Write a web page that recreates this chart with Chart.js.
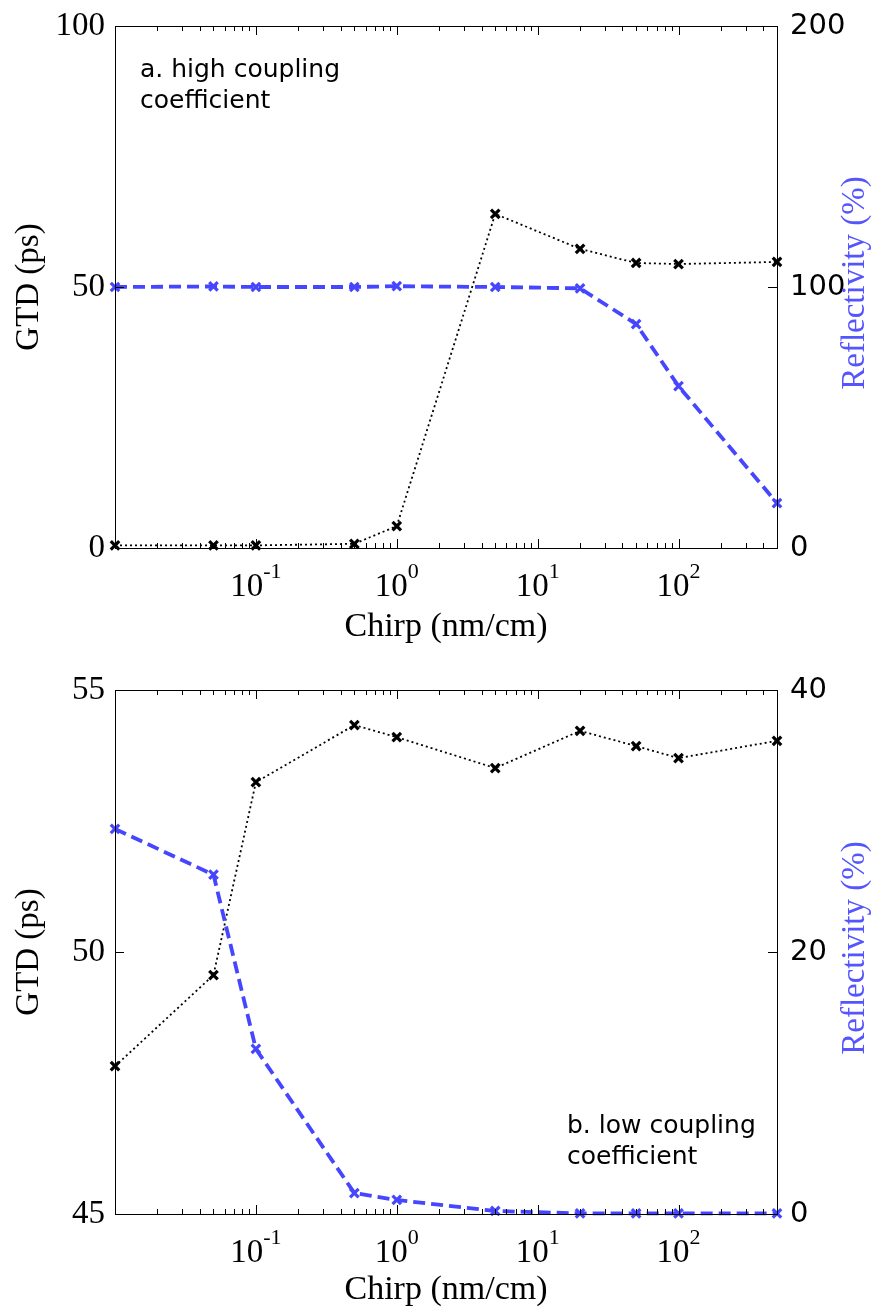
<!DOCTYPE html>
<html>
<head>
<meta charset="utf-8">
<script src="https://cdn.jsdelivr.net/npm/chart.js@4.4.0/dist/chart.umd.min.js"></script>
<style>
  body { margin: 0; background: #fff; }
  canvas { display: block; }
</style>
</head>
<body>
<canvas id="chartA" width="883" height="655"></canvas>
<canvas id="chartB" width="883" height="655"></canvas>
<script>
// chirp values (nm/cm), shared by both panels
const chirp = [0.01, 0.05, 0.1, 0.5, 1, 5, 20, 50, 100, 500];

// panel a: high coupling coefficient
const gtdHigh = [0.5, 0.5, 0.5, 0.8, 4.2, 64, 57.3, 54.6, 54.4, 54.8];
const reflHigh = [100, 100.2, 100, 100, 100.3, 100, 99.5, 85.8, 62, 17.2];

// panel b: low coupling coefficient
const gtdLow = [47.82, 49.56, 53.24, 54.33, 54.1, 53.51, 54.22, 53.93, 53.7, 54.03];
const reflLow = [29.4, 25.9, 12.6, 1.6, 1.07, 0.23, 0.05, 0.05, 0.05, 0.05];

// x axis decade labels (exponents of 10)
const decadeExps = [-1, 0, 1, 2];

const BLUE = 'rgb(70, 70, 255)';
const SERIF = '"Liberation Serif", "Times New Roman", serif';
const SANS = '"DejaVu Sans", Verdana, sans-serif';

function series(ys, color, dash, width, axis) {
  return {
    data: chirp.map((x, i) => ({ x: x, y: ys[i] })),
    yAxisID: axis,
    borderColor: color,
    borderDash: dash,
    borderWidth: width,
    pointStyle: 'crossRot',
    pointRadius: 6,
    pointBorderWidth: 3.2,
    pointBorderColor: color,
    pointBackgroundColor: color,
    tension: 0,
    fill: false,
    clip: false
  };
}

// frame, inward ticks, 10^n labels, right title and the panel note
const matlabAxes = {
  id: 'matlabAxes',
  afterDraw(chart, args, opts) {
    const ctx = chart.ctx;
    const a = chart.chartArea;
    const x = chart.scales.x;
    const y = chart.scales.y;
    const y1 = chart.scales.y1;
    ctx.save();
    ctx.strokeStyle = '#000';
    ctx.lineWidth = 1;
    ctx.strokeRect(Math.round(a.left) + 0.5, Math.round(a.top) + 0.5,
      Math.round(a.right - a.left), Math.round(a.bottom - a.top));

    ctx.beginPath();
    for (let p = -2; p <= 2; p++) {
      for (let m = 1; m <= 9; m++) {
        const v = m * Math.pow(10, p);
        if (v < x.min * 0.999 || v > x.max * 1.001) continue;
        const px = Math.round(x.getPixelForValue(v)) + 0.5;
        const len = m === 1 ? 9 : 5;
        ctx.moveTo(px, a.bottom); ctx.lineTo(px, a.bottom - len);
        ctx.moveTo(px, a.top); ctx.lineTo(px, a.top + len);
      }
    }
    y.ticks.forEach(t => {
      const py = Math.round(y.getPixelForValue(t.value)) + 0.5;
      ctx.moveTo(a.left, py); ctx.lineTo(a.left + 9, py);
    });
    y1.ticks.forEach(t => {
      const py = Math.round(y1.getPixelForValue(t.value)) + 0.5;
      ctx.moveTo(a.right, py); ctx.lineTo(a.right - 9, py);
    });
    ctx.stroke();

    // decade labels with superscript exponent
    ctx.fillStyle = '#000';
    ctx.textBaseline = 'alphabetic';
    ctx.textAlign = 'left';
    decadeExps.forEach(e => {
      const px = x.getPixelForValue(Math.pow(10, e));
      ctx.font = '33px ' + SERIF;
      const wBase = ctx.measureText('10').width;
      ctx.font = '22px ' + SERIF;
      const wExp = ctx.measureText(String(e)).width;
      const left = px - (wBase + wExp) / 2;
      ctx.font = '33px ' + SERIF;
      ctx.fillText('10', left, a.bottom + opts.labelOffset);
      ctx.font = '22px ' + SERIF;
      ctx.fillText(String(e), left + wBase, a.bottom + opts.labelOffset - 18);
    });

    // right axis title, reading bottom to top
    ctx.save();
    ctx.translate(a.right + 78, (a.top + a.bottom) / 2 - 4);
    ctx.rotate(-Math.PI / 2);
    ctx.font = '33px ' + SERIF;
    ctx.fillStyle = 'rgb(85, 85, 255)';
    ctx.textAlign = 'center';
    ctx.textBaseline = 'middle';
    ctx.fillText('Reflectivity (%)', 0, 0);
    ctx.restore();

    // panel note
    ctx.fillStyle = '#000';
    ctx.font = '25px ' + SANS;
    ctx.textAlign = 'left';
    ctx.textBaseline = 'middle';
    opts.note.forEach((line, i) => {
      ctx.fillText(line, opts.noteX, opts.noteY + i * 31);
    });
    ctx.restore();
  }
};

function makeChart(id, gtd, refl, cfg) {
  return new Chart(document.getElementById(id), {
    type: 'line',
    data: {
      datasets: [
        series(refl, BLUE, [12, 6], 3.8, 'y1'),
        series(gtd, '#000', [2, 3], 1.8, 'y')
      ]
    },
    options: {
      responsive: false,
      animation: false,
      events: [],
      layout: { padding: { top: cfg.top, left: 0, right: 0, bottom: 0 } },
      plugins: {
        legend: { display: false },
        tooltip: { enabled: false },
        matlabAxes: { note: cfg.note, noteX: cfg.noteX, noteY: cfg.noteY, labelOffset: 48 }
      },
      scales: {
        x: {
          type: 'logarithmic',
          position: 'bottom',
          min: 0.01,
          max: 500,
          grid: { display: false },
          border: { display: false },
          ticks: { display: false },
          title: {
            display: true,
            text: 'Chirp (nm/cm)',
            color: '#000',
            font: { family: SERIF, size: 34 },
            padding: { top: 0, bottom: cfg.xTitlePad }
          },
          afterFit: s => { s.height = cfg.xHeight; }
        },
        y: {
          position: 'left',
          min: cfg.gtdMin,
          max: cfg.gtdMax,
          grid: { display: false },
          border: { display: false },
          ticks: {
            stepSize: (cfg.gtdMax - cfg.gtdMin) / 2,
            color: '#000',
            padding: 2,
            font: { family: SERIF, size: 33 }
          },
          title: {
            display: true,
            text: 'GTD (ps)',
            color: '#000',
            font: { family: SERIF, size: 33 },
            padding: { top: 10, bottom: 0 }
          },
          afterFit: s => { s.width = 115; }
        },
        y1: {
          position: 'right',
          min: 0,
          max: cfg.reflMax,
          grid: { display: false },
          border: { display: false },
          ticks: {
            stepSize: cfg.reflMax / 2,
            color: '#000',
            padding: 5,
            font: { family: SANS, size: 29 }
          },
          title: { display: false },
          afterFit: s => { s.width = 106; }
        }
      }
    },
    plugins: [matlabAxes]
  });
}

makeChart('chartA', gtdHigh, reflHigh, {
  top: 26, xHeight: 107, xTitlePad: 8,
  gtdMin: 0, gtdMax: 100, reflMax: 200,
  note: ['a. high coupling', 'coefficient'], noteX: 140, noteY: 70
});

makeChart('chartB', gtdLow, reflLow, {
  top: 35, xHeight: 96, xTitlePad: 0,
  gtdMin: 45, gtdMax: 55, reflMax: 40,
  note: ['b. low coupling', 'coefficient'], noteX: 567, noteY: 471
});
</script>
</body>
</html>
